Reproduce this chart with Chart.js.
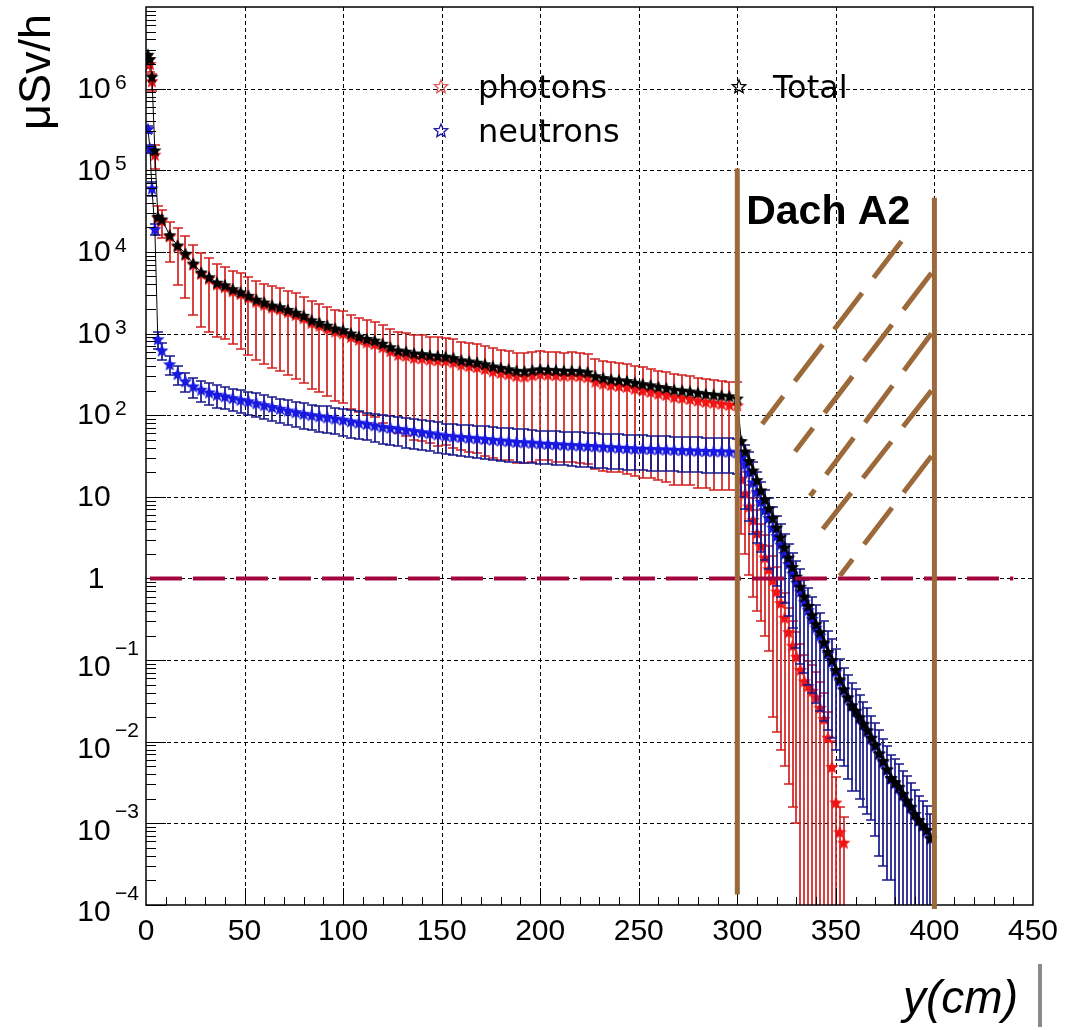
<!DOCTYPE html>
<html>
<head>
<meta charset="utf-8">
<title>Dose rate through Dach A2</title>
<script src="https://cdn.jsdelivr.net/npm/chart.js@4.4.1/dist/chart.umd.min.js"></script>
<style>
  html, body { margin: 0; padding: 0; background: #fff; }
  canvas { display: block; }
</style>
</head>
<body>
<canvas id="doseChart" width="1067" height="1030"></canvas>
<script>
// y position (cm)
var positions = [
  1, 2, 3, 4.5, 6,
  8, 12, 16, 20, 24, 28, 32, 36, 40, 44,
  48, 52, 56, 60, 64, 68, 72, 76, 80, 84,
  88, 92, 96, 100, 104, 108, 112, 116, 120, 124,
  128, 132, 136, 140, 144, 148, 152, 156, 160, 164,
  168, 172, 176, 180, 184, 188, 192, 196, 200, 204,
  208, 212, 216, 220, 224, 228, 232, 236, 240, 244,
  248, 252, 256, 260, 264, 268, 272, 276, 280, 284,
  288, 292, 296,
  300, 302, 304, 306, 308, 310, 312, 314, 316, 318,
  320, 322, 324, 326, 328, 330, 332, 334, 336, 338,
  340, 342, 344, 346, 348, 350, 352, 354, 356, 358,
  360, 362, 364, 366, 368, 370, 372, 374, 376, 378,
  380, 382, 384, 386, 388, 390, 392, 394, 396, 398,
  400
];

// dose rates in uSv/h
var totalDose = [
  2600000, 2300000, 1400000, 175000, 27000,
  25000, 16000, 12000, 9500, 7200, 5600, 4900, 4200, 3900, 3500,
  3200, 2900, 2600, 2400, 2200, 2100, 1950, 1800, 1650, 1450,
  1350, 1250, 1150, 1100, 1000, 920, 860, 820, 750, 680,
  620, 600, 570, 560, 540, 530, 520, 500, 470, 455,
  440, 420, 395, 380, 365, 350, 345, 355, 365, 360,
  355, 350, 350, 345, 335, 300, 285, 275, 268, 262,
  250, 240, 232, 222, 215, 205, 200, 195, 188, 182,
  178, 174, 170,
  160, 48, 36, 27.5, 21, 16, 12, 9.3, 7.2, 5.5,
  4.2, 3.2, 2.4, 1.8, 1.38, 1.05, 0.79, 0.6, 0.46, 0.355,
  0.275, 0.22, 0.165, 0.126, 0.1, 0.076, 0.058, 0.044, 0.035, 0.028,
  0.024, 0.02, 0.0166, 0.0138, 0.0112, 0.0091, 0.0072, 0.0058, 0.0046, 0.0036,
  0.0032, 0.0028, 0.0023, 0.0019, 0.0016, 0.0013, 0.0011, 0.00095, 0.00083, 0.00066,
  null
];

var photonDose = [
  2200000, 2000000, 1230000, 155000, 26000,
  24000, 15500, 11700, 9200, 7000, 5400, 4700, 4000, 3700, 3300,
  3050, 2750, 2450, 2250, 2080, 1980, 1830, 1690, 1540, 1350,
  1250, 1150, 1060, 1010, 910, 840, 780, 745, 680, 610,
  550, 535, 505, 498, 480, 470, 465, 445, 415, 400,
  388, 368, 345, 330, 318, 303, 298, 308, 320, 315,
  310, 306, 307, 302, 292, 258, 244, 234, 228, 222,
  211, 201, 193, 184, 177, 167, 163, 158, 151, 146,
  142, 138, 134,
  132, 16.5, 11, 7.6, 5.2, 3.6, 2.5, 1.8, 1.3, 0.95,
  0.69, 0.5, 0.33, 0.22, 0.15, 0.11, 0.076, 0.055, 0.048, 0.042,
  0.035, 0.026, 0.019, 0.0112, 0.0049, 0.0018, 0.00078, 0.00058, null, null,
  null, null, null, null, null, null, null, null, null, null,
  null, null, null, null, null, null, null, null, null, null,
  null
];

var photonErr = [
  400000, 400000, 300000, 50000, 10000,
  9000, 8000, 7800, 6500, 5300, 4200, 3650, 3100, 2850, 2550,
  2400, 2200, 1980, 1830, 1700, 1630, 1520, 1410, 1290, 1140,
  1060, 980, 910, 870, 790, 730, 680, 650, 600, 540,
  490, 480, 455, 450, 435, 428, 422, 405, 378, 365,
  354, 336, 315, 302, 290, 277, 272, 281, 292, 287,
  283, 279, 280, 276, 267, 236, 223, 214, 208, 203,
  193, 184, 176, 168, 162, 153, 149, 144, 138, 133,
  130, 126, 122,
  120, 13, 9, 6.5, 4.6, 3.2, 2.2, 1.6, 1.17, 0.93,
  0.677, 0.492, 0.325, 0.217, 0.1484, 0.109, 0.08, 0.06, 0.05, 0.045,
  0.037, 0.028, 0.02, 0.012, 0.0052, 0.0019, 0.00082, 0.0006, null, null,
  null, null, null, null, null, null, null, null, null, null,
  null, null, null, null, null, null, null, null, null, null,
  null
];

var neutronDose = [
  320000, 185000, 60000, 19000, 850,
  620, 420, 320, 260, 225, 205, 190, 178, 170, 162,
  154, 148, 140, 133, 126, 120, 114, 109, 104, 100,
  97, 94, 91, 88, 84, 81, 78, 75, 72, 70,
  68, 66, 64, 62, 60, 58, 56, 55, 54, 53,
  52, 51, 50, 49, 48, 47, 46.5, 46, 45, 44.5,
  44, 43.5, 43, 42.5, 42, 41.5, 41, 40.5, 40, 39.5,
  39, 38.8, 38.5, 38.2, 38, 37.6, 37.3, 37, 36.7, 36.4,
  36.2, 36, 35.8,
  35, 30, 25, 20, 15, 11.5, 8.7, 6.9, 5.5, 4.2,
  3.3, 2.6, 2.0, 1.5, 1.15, 0.89, 0.69, 0.52, 0.41, 0.32,
  0.25, 0.2, 0.158, 0.12, 0.095, 0.072, 0.055, 0.043, 0.0345, 0.0275,
  0.0235, 0.0195, 0.0162, 0.0135, 0.011, 0.0089, 0.0071, 0.0056, 0.0045, 0.0035,
  0.0031, 0.0027, 0.0022, 0.00186, 0.00155, 0.00129, 0.00107, 0.00093, 0.00081, 0.00065,
  null
];

var neutronErr = [
  30000, 20000, 12000, 3000, 200,
  150, 110, 85, 70, 63, 60, 56, 54, 52, 50,
  48, 47, 45, 43, 41, 39, 38, 37, 36, 35,
  34, 34, 33, 32, 31, 30, 29, 28, 27.5, 27,
  26.5, 26, 25.5, 25, 24, 23.5, 23, 22.6, 22.4, 22.2,
  22, 21.8, 21.5, 21.2, 21, 20.6, 20.3, 20, 19.7, 19.5,
  19.4, 19.3, 19.2, 19, 18.9, 18.7, 18.5, 18.3, 18.1, 17.9,
  17.7, 17.6, 17.5, 17.4, 17.3, 17.1, 17, 16.9, 16.8, 16.6,
  16.5, 16.4, 16.3,
  16, 20, 18, 15, 11.5, 8.8, 6.6, 5.2, 4.2, 3.2,
  2.5, 2.0, 1.5, 1.15, 0.9, 0.75, 0.6, 0.45, 0.36, 0.28,
  0.22, 0.176, 0.14, 0.106, 0.084, 0.064, 0.049, 0.038, 0.031, 0.025,
  0.021, 0.0175, 0.0146, 0.0122, 0.0099, 0.0082, 0.0067, 0.0053, 0.0043, 0.0033,
  0.003, 0.0027, 0.0022, 0.0019, 0.0016, 0.0013, 0.0011, 0.00095, 0.00083, 0.00066,
  null
];

var xTicks = [0, 50, 100, 150, 200, 250, 300, 350, 400, 450];
var yExponents = [6, 5, 4, 3, 2, 1, 0, -1, -2, -3, -4];

var doseLimit = 1;
var limitFrom = 2;
var limitTo = 440;

// roof region, in data units (cm, uSv/h)
var roofWalls = [
  { x: 300, top: 1.05e5, bottom: 1.5e-4 },
  { x: 400, top: 4.6e4, bottom: 1e-4 }
];
var hatchSegments = [
  [383.3, 13500, 312.6, 78],
  [398.5, 5500, 329.3, 36],
  [398.5, 1000, 336.9, 10.2],
  [398.5, 200, 341.4, 3.5],
  [398.5, 31.6, 352.0, 1.07]
];
var roofLabel = { text: 'Dach A2', x: 304.5, y: 2.2e4 };

var brown = '#9c6a3a';
var font = '"Liberation Sans", Arial, sans-serif';
var legendFont = '"DejaVu Sans", sans-serif';

function starPath(g, x, y, outer, inner) {
  g.beginPath();
  for (var i = 0; i < 10; i++) {
    var r = i % 2 === 0 ? outer : inner;
    var a = -Math.PI / 2 + i * Math.PI / 5;
    if (i === 0) g.moveTo(x + r * Math.cos(a), y + r * Math.sin(a));
    else g.lineTo(x + r * Math.cos(a), y + r * Math.sin(a));
  }
  g.closePath();
}

function starImage(color, radius) {
  var size = Math.ceil(radius * 2 + 2);
  var c = document.createElement('canvas');
  c.width = size;
  c.height = size;
  var g = c.getContext('2d');
  starPath(g, size / 2, size / 2 + 0.5, radius, radius * 0.45);
  g.fillStyle = color;
  g.fill();
  return c;
}

function toPoints(values, errors) {
  var pts = [];
  for (var i = 0; i < positions.length; i++) {
    if (values[i] === null) continue;
    pts.push({ x: positions[i], y: values[i], err: errors ? errors[i] : null });
  }
  return pts;
}

var errorBars = {
  id: 'errorBars',
  beforeDatasetDraw: function(chart, args) {
    var ds = chart.data.datasets[args.index];
    if (!ds.errorColor) return;
    var xs = chart.scales.x, ys = chart.scales.y, area = chart.chartArea;
    var ctx = chart.ctx;
    var cap = 5;
    ctx.save();
    ctx.beginPath();
    ctx.rect(area.left, area.top, area.right - area.left, area.bottom - area.top);
    ctx.clip();
    ctx.strokeStyle = ds.errorColor;
    ctx.lineWidth = 1.7;
    ctx.beginPath();
    ds.data.forEach(function(p) {
      if (p.err === null) return;
      var px = Math.round(xs.getPixelForValue(p.x));
      var hi = Math.round(ys.getPixelForValue(p.y + p.err));
      var low = p.y - p.err;
      var lo = low > ys.min ? Math.round(ys.getPixelForValue(low)) : area.bottom;
      ctx.moveTo(px, hi);
      ctx.lineTo(px, lo);
      ctx.moveTo(px - cap, hi);
      ctx.lineTo(px + cap, hi);
      if (low > ys.min) {
        ctx.moveTo(px - cap, lo);
        ctx.lineTo(px + cap, lo);
      }
    });
    ctx.stroke();
    ctx.restore();
  }
};

var gridFrame = {
  id: 'gridFrame',
  beforeDatasetsDraw: function(chart) {
    var ctx = chart.ctx, xs = chart.scales.x, ys = chart.scales.y, area = chart.chartArea;
    ctx.save();
    ctx.strokeStyle = '#000';
    ctx.lineWidth = 1;
    ctx.setLineDash([4, 3]);
    ctx.beginPath();
    xTicks.forEach(function(v) {
      if (v <= xs.min || v >= xs.max) return;
      var px = Math.round(xs.getPixelForValue(v)) + 0.5;
      ctx.moveTo(px, area.top);
      ctx.lineTo(px, area.bottom);
    });
    yExponents.forEach(function(p) {
      var v = Math.pow(10, p);
      if (v <= ys.min || v >= ys.max) return;
      var py = Math.round(ys.getPixelForValue(v)) + 0.5;
      ctx.moveTo(area.left, py);
      ctx.lineTo(area.right, py);
    });
    ctx.stroke();
    ctx.restore();
  },
  afterDatasetsDraw: function(chart) {
    var ctx = chart.ctx, xs = chart.scales.x, ys = chart.scales.y, area = chart.chartArea;
    ctx.save();
    ctx.strokeStyle = '#000';
    ctx.lineWidth = 1.5;
    ctx.strokeRect(area.left, area.top, area.right - area.left, area.bottom - area.top);
    ctx.lineWidth = 1;
    ctx.beginPath();
    for (var v = 10; v < xs.max; v += 10) {
      var px = Math.round(xs.getPixelForValue(v)) + 0.5;
      ctx.moveTo(px, area.bottom);
      ctx.lineTo(px, area.bottom - (v % 50 === 0 ? 17 : 8));
    }
    for (var p = -4; p < 7; p++) {
      for (var m = 1; m < 10; m++) {
        var py = Math.round(ys.getPixelForValue(m * Math.pow(10, p))) + 0.5;
        ctx.moveTo(area.left, py);
        ctx.lineTo(area.left + (m === 1 ? 20 : 10), py);
      }
    }
    ctx.stroke();
    ctx.restore();
  }
};

var roofMarks = {
  id: 'roofMarks',
  afterDatasetsDraw: function(chart) {
    var ctx = chart.ctx, xs = chart.scales.x, ys = chart.scales.y;
    ctx.save();
    var ly = ys.getPixelForValue(doseLimit);
    ctx.strokeStyle = '#a3063f';
    ctx.lineWidth = 4;
    ctx.setLineDash([32, 11]);
    ctx.beginPath();
    ctx.moveTo(xs.getPixelForValue(limitFrom), ly);
    ctx.lineTo(xs.getPixelForValue(limitTo), ly);
    ctx.stroke();

    ctx.strokeStyle = brown;
    ctx.lineWidth = 5;
    ctx.setLineDash([46, 19]);
    hatchSegments.forEach(function(s) {
      ctx.beginPath();
      ctx.moveTo(xs.getPixelForValue(s[0]), ys.getPixelForValue(s[1]));
      ctx.lineTo(xs.getPixelForValue(s[2]), ys.getPixelForValue(s[3]));
      ctx.stroke();
    });

    ctx.setLineDash([]);
    ctx.beginPath();
    roofWalls.forEach(function(w) {
      var px = xs.getPixelForValue(w.x);
      ctx.moveTo(px, ys.getPixelForValue(w.top));
      ctx.lineTo(px, ys.getPixelForValue(w.bottom) + 4);
    });
    ctx.stroke();

    ctx.fillStyle = '#000';
    ctx.font = 'bold 41px ' + font;
    ctx.textAlign = 'left';
    ctx.textBaseline = 'alphabetic';
    ctx.fillText(roofLabel.text, xs.getPixelForValue(roofLabel.x), ys.getPixelForValue(roofLabel.y));
    ctx.restore();
  }
};

var labelsLegend = {
  id: 'labelsLegend',
  afterDraw: function(chart) {
    var ctx = chart.ctx, ys = chart.scales.y;
    ctx.save();
    ctx.fillStyle = '#000';

    // y tick labels as 10^n
    yExponents.forEach(function(p) {
      var py = ys.getPixelForValue(Math.pow(10, p));
      ctx.font = '30px ' + font;
      ctx.textAlign = 'center';
      ctx.textBaseline = 'middle';
      if (p === 0) {
        ctx.fillText('1', 96, py + 1);
        return;
      }
      ctx.fillText('10', 94, py + (p < 0 ? 8 : 1));
      if (p === 1) return;
      ctx.font = '21px ' + font;
      ctx.textAlign = 'left';
      ctx.textBaseline = 'alphabetic';
      ctx.fillText(p < 0 ? '\u2212' + (-p) : String(p), 115, py + (p < 0 ? -5 : 0));
    });

    // axis titles
    ctx.save();
    ctx.translate(50, 72);
    ctx.rotate(-Math.PI / 2);
    ctx.font = '45px ' + font;
    ctx.textAlign = 'center';
    ctx.textBaseline = 'alphabetic';
    ctx.fillText('\u03bcSv/h', 0, 0);
    ctx.restore();

    ctx.font = 'italic 46px ' + font;
    ctx.textAlign = 'right';
    ctx.textBaseline = 'alphabetic';
    ctx.fillText('y(cm)', 1018, 1013);
    ctx.fillStyle = '#8a8a8a';
    ctx.fillRect(1038, 964, 4, 63);

    // legend
    var items = [
      { ds: 2, color: '#e05a5a', sx: 441, sy: 87, tx: 478, ty: 98 },
      { ds: 1, color: '#1a1aa0', sx: 441, sy: 131, tx: 478, ty: 142 },
      { ds: 0, color: '#000', sx: 739, sy: 87, tx: 773, ty: 98 }
    ];
    items.forEach(function(it) {
      starPath(ctx, it.sx, it.sy, 7, 3.1);
      ctx.strokeStyle = it.color;
      ctx.lineWidth = 1.3;
      ctx.stroke();
      ctx.fillStyle = '#000';
      ctx.font = '32px ' + legendFont;
      ctx.textAlign = 'left';
      ctx.fillText(chart.data.datasets[it.ds].label, it.tx, it.ty);
    });
    ctx.restore();
  }
};

var doseChart = new Chart(document.getElementById('doseChart'), {
  type: 'scatter',
  data: {
    datasets: [
      {
        label: 'Total',
        data: toPoints(totalDose, null),
        pointStyle: starImage('#000', 7),
        pointRadius: 6,
        showLine: true,
        borderColor: '#000',
        borderWidth: 1
      },
      {
        label: 'neutrons',
        data: toPoints(neutronDose, neutronErr),
        errorColor: '#17178c',
        pointStyle: starImage('#1818e0', 7),
        pointRadius: 6,
        showLine: true,
        borderWidth: 1,
        borderColor: '#000',
        segment: {
          borderColor: function(c) { return c.p0DataIndex < 4 ? '#000' : 'rgba(0,0,0,0)'; }
        }
      },
      {
        label: 'photons',
        data: toPoints(photonDose, photonErr),
        errorColor: '#d42020',
        pointStyle: starImage('#f01414', 7),
        pointRadius: 6
      }
    ]
  },
  options: {
    responsive: false,
    animation: false,
    devicePixelRatio: 1,
    events: [],
    layout: { padding: { left: 146, right: 30, top: 5, bottom: 71 } },
    plugins: { legend: { display: false }, tooltip: { enabled: false } },
    scales: {
      x: {
        type: 'linear',
        min: 0,
        max: 450,
        grid: { display: false, drawTicks: false },
        border: { display: false },
        afterBuildTicks: function(axis) {
          axis.ticks = xTicks.map(function(v) { return { value: v }; });
        },
        ticks: {
          color: '#000',
          padding: 9,
          maxRotation: 0,
          autoSkip: false,
          font: { family: font, size: 30 }
        }
      },
      y: {
        type: 'logarithmic',
        display: false,
        min: 1e-4,
        max: 1e7
      }
    }
  },
  plugins: [errorBars, gridFrame, roofMarks, labelsLegend]
});
</script>
</body>
</html>
